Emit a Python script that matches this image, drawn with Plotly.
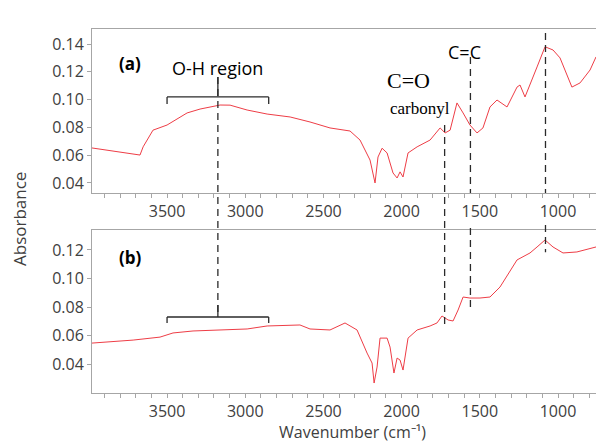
import plotly.graph_objects as go

# FTIR spectrum (a)
wn_a = [3980, 3850, 3750, 3673, 3653, 3590, 3500, 3372, 3289, 3161, 3097, 2988, 2860,
        2713, 2586, 2458, 2330, 2266, 2202, 2170, 2151, 2125, 2093, 2055, 2029, 2010,
        1991, 1959, 1901, 1818, 1754, 1722, 1690, 1671, 1646, 1607, 1563, 1518, 1480,
        1435, 1390, 1326, 1262, 1243, 1211, 1134, 1083, 1032, 987, 911, 859, 795, 757]
abs_a = [0.0652, 0.0632, 0.0618, 0.0601, 0.0660, 0.0780, 0.0817, 0.0904, 0.0932, 0.0961,
         0.0960, 0.0925, 0.0896, 0.0875, 0.0839, 0.0796, 0.0774, 0.0709, 0.0565, 0.0400,
         0.0587, 0.0650, 0.0616, 0.0472, 0.0436, 0.0480, 0.0443, 0.0616, 0.0660, 0.0709,
         0.0796, 0.0760, 0.0780, 0.0868, 0.0976, 0.0904, 0.0817, 0.0760, 0.0796, 0.0947,
         0.0997, 0.0947, 0.1090, 0.1105, 0.1019, 0.1235, 0.1380, 0.1357, 0.1300, 0.1090,
         0.1120, 0.1213, 0.1307]

# FTIR spectrum (b)
wn_b = [3980, 3717, 3545, 3462, 3334, 3161, 2988, 2860, 2650, 2586, 2458, 2362, 2285,
        2221, 2189, 2176, 2157, 2138, 2093, 2074, 2049, 2029, 2010, 1991, 1959, 1901,
        1818, 1774, 1742, 1703, 1671, 1639, 1607, 1563, 1499, 1435, 1371, 1262, 1224,
        1179, 1134, 1083, 1032, 968, 879, 757]
abs_b = [0.0547, 0.0568, 0.0589, 0.0618, 0.0632, 0.0639, 0.0646, 0.0667, 0.0674, 0.0646,
         0.0639, 0.0688, 0.0639, 0.0477, 0.0407, 0.0267, 0.0379, 0.0582, 0.0582, 0.0519,
         0.0337, 0.0442, 0.0428, 0.0358, 0.0582, 0.0639, 0.0667, 0.0688, 0.0737, 0.0709,
         0.0702, 0.0779, 0.0870, 0.0863, 0.0863, 0.0870, 0.0940, 0.1130, 0.1151, 0.1179,
         0.1221, 0.1270, 0.1221, 0.1179, 0.1186, 0.1221]

x_ticks = [3500, 3000, 2500, 2000, 1500, 1000]
y_ticks_a = [0.04, 0.06, 0.08, 0.10, 0.12, 0.14]
y_ticks_b = [0.04, 0.06, 0.08, 0.10, 0.12]

# band assignments (wavenumber positions)
oh_lo, oh_hi, oh_mid = 2850, 3500, 3175
wn_carbonyl = 1725
wn_cc = 1560
wn_epoxy = 1080

LINE = "#ee3d46"
AXIS = "#a6a6a6"
TICKC = "#404040"
SANS = "Open Sans, sans-serif"
SERIF = "Liberation Serif, serif"

fig = go.Figure()
fig.add_trace(go.Scatter(x=wn_a, y=abs_a, mode="lines", line=dict(color=LINE, width=1),
                         xaxis="x", yaxis="y", showlegend=False))
fig.add_trace(go.Scatter(x=wn_b, y=abs_b, mode="lines", line=dict(color=LINE, width=1),
                         xaxis="x2", yaxis="y2", showlegend=False))

xcommon = dict(range=[3980, 757], tickvals=x_ticks, ticks="outside", ticklen=4,
               tickcolor=AXIS, showline=True, linecolor=AXIS, linewidth=1, mirror=True,
               showgrid=False, zeroline=False,
               minor=dict(dtick=100, ticks="outside", ticklen=4, tickcolor=AXIS),
               tickfont=dict(family=SANS, size=16, color=TICKC))
ycommon = dict(ticks="outside", ticklen=4, tickcolor=AXIS, showline=True, linecolor=AXIS,
               linewidth=1, showgrid=False, zeroline=False, tickformat=".2f",
               tickfont=dict(family=SANS, size=16, color=TICKC))

fig.update_layout(
    width=596, height=443,
    margin=dict(l=92, r=0, t=29, b=50),
    paper_bgcolor="white", plot_bgcolor="white",
    xaxis=dict(domain=[0, 1], anchor="y", **xcommon),
    yaxis=dict(domain=[0.5495, 1.0], anchor="x", range=[0.0328, 0.1508],
               tickvals=y_ticks_a, **ycommon),
    xaxis2=dict(domain=[0, 1], anchor="y2", **xcommon),
    yaxis2=dict(domain=[0.0, 0.4478], anchor="x2", range=[0.0197, 0.134],
                tickvals=y_ticks_b, **ycommon),
)

DASH = "7px,5px"
LC = "#2a2a2a"
shapes = []


def vline(x, y0, y1, dash=DASH):
    shapes.append(dict(type="line", xref="x", yref="paper", x0=x, x1=x, y0=y0, y1=y1,
                       line=dict(color=LC, width=1.3, dash=dash)))


# O-H region brackets
for xr, yr, yb, ye in [("x", "y", 0.1019, 0.0968), ("x2", "y2", 0.0730, 0.0688)]:
    shapes.append(dict(type="line", xref=xr, yref=yr, x0=oh_hi, x1=oh_lo, y0=yb, y1=yb,
                       line=dict(color=LC, width=1.3)))
    for xe in (oh_hi, oh_lo):
        shapes.append(dict(type="line", xref=xr, yref=yr, x0=xe, x1=xe, y0=yb, y1=ye,
                           line=dict(color=LC, width=1.3)))

vline(oh_mid, 0.868, 0.2088)
vline(oh_mid, 0.868, 0.815, dash="solid")
vline(oh_mid, 0.242, 0.2088, dash="solid")
vline(wn_carbonyl, 0.736, 0.181)
vline(wn_cc, 0.923, 0.5495)
vline(wn_cc, 0.453, 0.2335)
vline(wn_epoxy, 0.989, 0.5495)
vline(wn_epoxy, 0.4615, 0.387)
fig.update_layout(shapes=shapes)

ann = [
    dict(text="<b>(a)</b>", x=3737, y=0.1263, xref="x", yref="y",
         font=dict(family=SANS, size=17, color="black")),
    dict(text="<b>(b)</b>", x=3737, y=0.115, xref="x2", yref="y2",
         font=dict(family=SANS, size=17, color="black")),
    dict(text="O-H region", x=oh_mid, y=0.1227, xref="x", yref="y",
         font=dict(family=SANS, size=18, color="black")),
    dict(text="C=O", x=1959, y=0.114, xref="x", yref="y",
         font=dict(family=SERIF, size=22, color="black")),
    dict(text="carbonyl", x=1882, y=0.0935, xref="x", yref="y",
         font=dict(family=SERIF, size=17, color="black")),
    dict(text="C=C", x=1595, y=0.1342, xref="x", yref="y",
         font=dict(family=SANS, size=18, color="black")),
    dict(text="C=O epoxy", x=1115, y=0.1573, xref="x", yref="y",
         font=dict(family=SANS, size=18, color="black")),
    dict(text="Absorbance", x=20, y=219, xref="paper", yref="paper",
         font=dict(family=SANS, size=17, color=TICKC), textangle=-90),
    dict(text="Wavenumber (cm\u207b\u00b9)", x=352, y=432, xref="paper", yref="paper",
         font=dict(family=SANS, size=16, color=TICKC)),
]
# convert pixel-based title positions to paper coordinates
for a in ann:
    if a["xref"] == "paper":
        a["x"] = (a["x"] - 92) / (596 - 92)
        a["y"] = (393 - a["y"]) / 364
    a.update(showarrow=False, xanchor="center", yanchor="middle")
fig.update_layout(annotations=ann)

fig.write_html("out.html")
